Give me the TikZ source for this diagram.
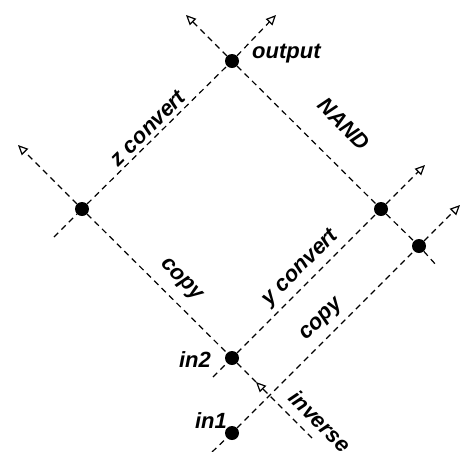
\documentclass[tikz,border=0pt]{standalone}
\usepackage{fontspec}
\setmainfont{Liberation Sans}
\usetikzlibrary{arrows.meta}
\begin{document}
\begin{tikzpicture}[x=1pt,y=-1pt,
  dline/.style={line width=1.2pt, dash pattern=on 6pt off 4.5pt},
  arr/.style={-{Triangle[open,length=10pt,width=9pt,line width=1.2pt]}},
  dot/.style={circle, fill=black, inner sep=0pt, minimum size=14pt},
  lbl/.style={font=\bfseries\itshape\fontsize{22}{25}\selectfont, inner sep=0pt}]
\useasboundingbox (0,0) rectangle (461,451);
% events
\node[dot] (out) at (232,61) {};
\node[dot] (L) at (82,209) {};
\node[dot] (R1) at (381,209) {};
\node[dot] (R2) at (419,246) {};
\node[dot] (in2) at (232,358) {};
\node[dot] (in1) at (232,433) {};
% free ends
\coordinate (A0) at (213,377);
\coordinate (A1) at (425,165);
\coordinate (B0) at (212,452);
\coordinate (B1) at (460,205);
\coordinate (C0) at (54,237);
\coordinate (C1) at (276,15);
\coordinate (D0) at (186,15);
\coordinate (D1) at (437,266);
\coordinate (E0) at (18,145);
\coordinate (Einv) at (312,438);
\coordinate (Etip) at (256,382);
% lines
\draw[dline] (A0) -- (in2) -- (R1);
\draw[dline,arr] (R1) -- (A1);
\draw[dline] (B0) -- (in1) -- (R2);
\draw[dline,arr] (R2) -- (B1);
\draw[dline] (C0) -- (L) -- (out);
\draw[dline,arr] (out) -- (C1);
\draw[dline,arr] (out) -- (D0);
\draw[dline] (out) -- (R1) -- (R2) -- (D1);
\draw[dline,arr] (L) -- (E0);
\draw[dline] (L) -- (in2) -- (Etip);
\draw[dline,arr] (Einv) -- (Etip);
% labels
\node[lbl, anchor=west] (tout) at (252,54) {output};
\node[lbl, anchor=east] (tin2) at (211,360) {in2};
\node[lbl, anchor=east] (tin1) at (227,421) {in1};
\node[lbl, rotate=45] (tz) at (148,128) {z convert};
\node[lbl, rotate=-45] (tn) at (344,124) {NAND};
\node[lbl, rotate=-45] (tc1) at (181,280) {copy};
\node[lbl, rotate=45] (ty) at (301,268) {y convert};
\node[lbl, rotate=45] (tc2) at (322,320) {copy};
\node[lbl, rotate=-45] (tinv) at (320,421) {inverse};
\end{tikzpicture}
\end{document}
